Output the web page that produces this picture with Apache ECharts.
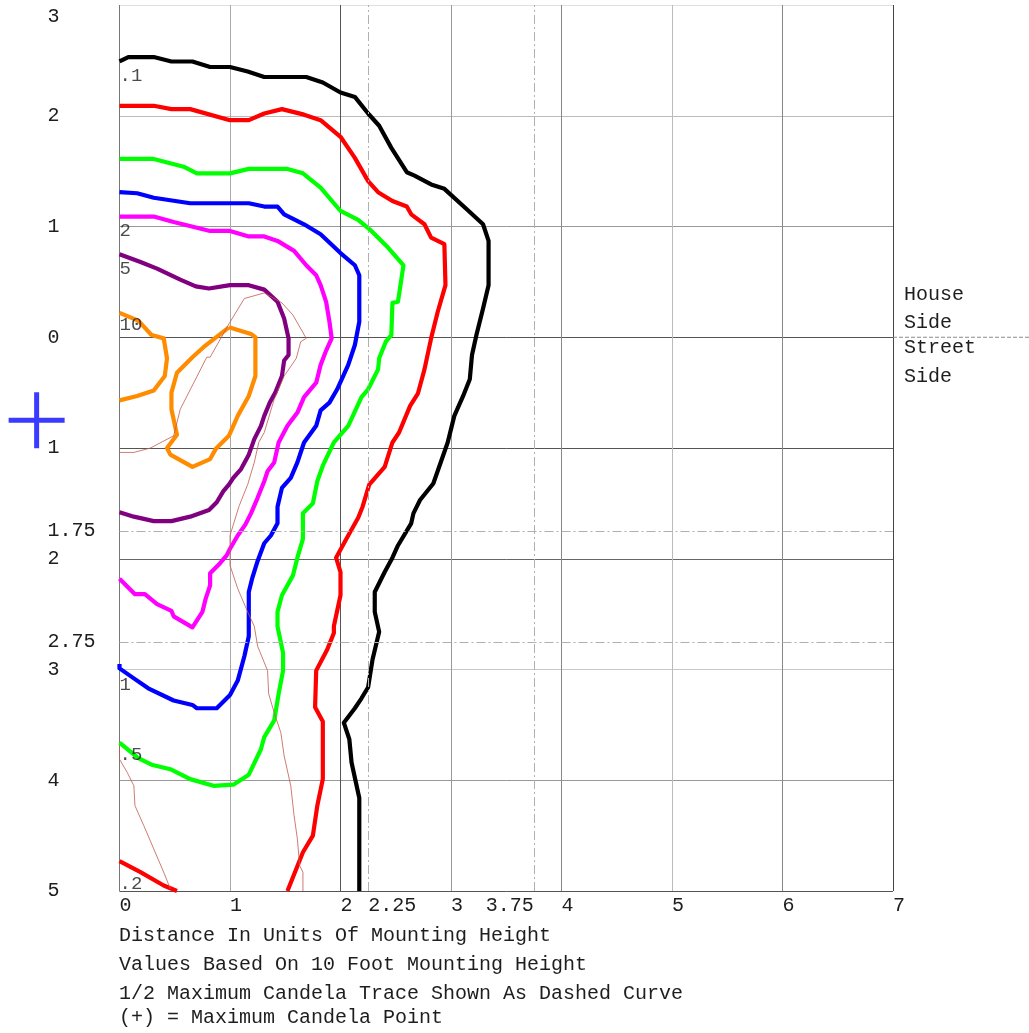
<!DOCTYPE html>
<html>
<head>
<meta charset="utf-8">
<script src="https://cdn.jsdelivr.net/npm/echarts@6/dist/echarts.min.js"></script>
<style>
html,body{margin:0;padding:0;background:#fff;}
#chart{width:1029px;height:1033px;}
</style>
</head>
<body>
<div id="chart"></div>
<script>
// ---- tick labels ----
const xTickValues = [0, 1, 2, 2.25, 3, 4, 5, 6, 7];
const xTickValuesRightAligned = [3.75];
const yTickValues = [3, 2, 1, 0, -1, -1.75, -2, -2.75, -3, -4, -5];
const xRefLines = [2.25, 3.75];
const yRefLines = [-1.75, -2.75];
const dividerY = 0;

// ---- iso-footcandle contours (x = distance, y = distance; + house side, - street side) ----
const contour01 = [[0,2.49],[0.08,2.53],[0.31,2.53],[0.47,2.49],[0.66,2.49],[0.82,2.44],[1.00,2.44],[1.16,2.40],[1.31,2.35],[1.69,2.35],[1.84,2.30],[2.00,2.21],[2.13,2.17],[2.25,2.02],[2.35,1.91],[2.46,1.71],[2.60,1.49],[2.67,1.46],[2.82,1.38],[2.94,1.34],[3.16,1.14],[3.29,1.02],[3.34,0.87],[3.34,0.47],[3.29,0.26],[3.23,0.02],[3.19,-0.16],[3.17,-0.38],[3.11,-0.53],[3.03,-0.71],[2.97,-0.95],[2.84,-1.32],[2.72,-1.47],[2.66,-1.59],[2.64,-1.68],[2.52,-1.88],[2.47,-1.99],[2.40,-2.12],[2.31,-2.30],[2.31,-2.48],[2.35,-2.66],[2.29,-2.91],[2.25,-3.16],[2.19,-3.26],[2.13,-3.35],[2.03,-3.48],[2.08,-3.63],[2.10,-3.84],[2.17,-4.16],[2.17,-5]];
const contour02 = [[0,2.09],[0.31,2.09],[0.47,2.06],[0.64,2.06],[1.00,1.96],[1.17,1.96],[1.31,2.02],[1.47,2.06],[1.67,2.01],[1.82,1.96],[2.00,1.81],[2.13,1.62],[2.25,1.41],[2.34,1.31],[2.47,1.23],[2.60,1.18],[2.64,1.11],[2.76,1.02],[2.82,0.90],[2.94,0.84],[2.95,0.47],[2.88,0.23],[2.82,-0.01],[2.76,-0.29],[2.70,-0.51],[2.63,-0.62],[2.53,-0.86],[2.47,-0.95],[2.40,-1.17],[2.26,-1.33],[2.20,-1.53],[2.16,-1.63],[2.07,-1.79],[1.96,-1.99],[2.00,-2.12],[2.00,-2.33],[1.94,-2.61],[1.94,-2.67],[1.88,-2.82],[1.78,-3.01],[1.77,-3.34],[1.84,-3.47],[1.84,-3.99],[1.79,-4.23],[1.75,-4.50],[1.66,-4.65],[1.52,-5]];
const contour02b = [[0,-4.73],[0.19,-4.83],[0.40,-4.95],[0.52,-5]];
const contour05 = [[0,1.61],[0.31,1.61],[0.58,1.54],[0.70,1.48],[1.00,1.48],[1.17,1.52],[1.52,1.52],[1.66,1.48],[1.82,1.35],[2.00,1.14],[2.16,1.06],[2.28,0.96],[2.43,0.81],[2.57,0.65],[2.52,0.32],[2.47,0.31],[2.46,0.02],[2.41,-0.04],[2.35,-0.19],[2.34,-0.29],[2.25,-0.47],[2.19,-0.54],[2.07,-0.80],[1.94,-0.95],[1.84,-1.16],[1.79,-1.30],[1.75,-1.50],[1.66,-1.59],[1.66,-1.82],[1.61,-1.99],[1.57,-2.15],[1.47,-2.33],[1.43,-2.48],[1.43,-2.61],[1.48,-2.85],[1.48,-3.01],[1.44,-3.22],[1.40,-3.46],[1.31,-3.61],[1.28,-3.72],[1.17,-3.95],[1.03,-4.04],[0.85,-4.05],[0.64,-3.99],[0.46,-3.90],[0.29,-3.86],[0.17,-3.80],[0,-3.66]];
const contour1 = [[0,1.31],[0.16,1.30],[0.31,1.26],[0.64,1.21],[1.17,1.21],[1.31,1.18],[1.43,1.18],[1.49,1.11],[1.67,1.02],[1.82,0.93],[2.00,0.76],[2.13,0.65],[2.17,0.56],[2.17,0.14],[2.13,-0.07],[2.07,-0.25],[1.97,-0.47],[1.90,-0.59],[1.82,-0.66],[1.78,-0.80],[1.67,-0.95],[1.61,-1.13],[1.55,-1.27],[1.47,-1.36],[1.43,-1.53],[1.43,-1.68],[1.37,-1.79],[1.31,-1.86],[1.25,-2.02],[1.20,-2.18],[1.17,-2.30],[1.17,-2.70],[1.13,-2.88],[1.07,-3.10],[1.00,-3.23],[0.88,-3.35],[0.70,-3.35],[0.66,-3.32],[0.49,-3.28],[0.26,-3.17],[0.13,-3.08],[0,-2.99],[0,-2.95]];
const contour2 = [[0,1.09],[0.31,1.09],[0.49,1.04],[0.82,0.96],[1.00,0.96],[1.17,0.91],[1.31,0.91],[1.43,0.87],[1.58,0.78],[1.69,0.65],[1.78,0.56],[1.82,0.47],[1.87,0.32],[1.90,0.14],[1.92,-0.01],[1.87,-0.12],[1.82,-0.25],[1.78,-0.41],[1.67,-0.54],[1.61,-0.68],[1.52,-0.80],[1.44,-0.95],[1.40,-1.13],[1.34,-1.21],[1.31,-1.30],[1.25,-1.45],[1.19,-1.59],[1.14,-1.69],[1.07,-1.79],[1.00,-1.91],[0.97,-1.97],[0.91,-2.04],[0.82,-2.13],[0.82,-2.24],[0.78,-2.36],[0.75,-2.48],[0.66,-2.62],[0.49,-2.52],[0.47,-2.47],[0.34,-2.41],[0.23,-2.32],[0.14,-2.32],[0,-2.18]];
const contour5 = [[0,0.75],[0.19,0.68],[0.34,0.62],[0.55,0.52],[0.69,0.46],[0.81,0.44],[1.00,0.47],[1.17,0.47],[1.31,0.43],[1.43,0.32],[1.49,0.17],[1.53,-0.01],[1.53,-0.16],[1.49,-0.21],[1.47,-0.35],[1.41,-0.50],[1.36,-0.59],[1.31,-0.71],[1.28,-0.80],[1.22,-0.92],[1.17,-1.06],[1.10,-1.19],[1.03,-1.27],[0.99,-1.33],[0.94,-1.39],[0.88,-1.49],[0.81,-1.56],[0.64,-1.62],[0.47,-1.66],[0.31,-1.66],[0.13,-1.62],[0,-1.58]];
const contour10a = [[0,0.22],[0.17,0.15],[0.29,0.02],[0.40,-0.01],[0.43,-0.19],[0.41,-0.35],[0.31,-0.48],[0.16,-0.53],[0,-0.57]];
const contour10b = [[0.99,0.09],[1.19,0.03],[1.23,0.00],[1.23,-0.35],[1.17,-0.53],[1.07,-0.71],[0.99,-0.89],[0.87,-1.01],[0.82,-1.10],[0.66,-1.17],[0.46,-1.06],[0.43,-1.00],[0.52,-0.88],[0.47,-0.65],[0.47,-0.50],[0.52,-0.32],[0.66,-0.18],[0.76,-0.09],[0.99,0.09]];
// ---- 1/2 maximum candela trace ----
const halfCandelaA = [[0,-1.04],[0.13,-1.04],[0.28,-1.00],[0.49,-0.89],[0.55,-0.65],[0.79,-0.18],[0.82,-0.18],[0.99,0.12],[1.13,0.35],[1.31,0.40],[1.47,0.31],[1.57,0.20],[1.69,-0.01],[1.64,-0.04],[1.60,-0.19],[1.49,-0.35],[1.40,-0.56],[1.31,-0.86],[1.26,-0.95],[1.22,-1.13],[1.16,-1.33],[1.08,-1.53],[1.00,-1.79],[1.00,-2.06],[1.07,-2.27],[1.16,-2.48],[1.22,-2.61],[1.25,-2.79],[1.34,-3.01],[1.35,-3.22],[1.40,-3.39],[1.46,-3.57],[1.49,-3.78],[1.55,-4.05],[1.58,-4.32],[1.61,-4.53],[1.63,-4.77],[1.66,-4.83],[1.66,-5]];
const halfCandelaB = [[0,-3.69],[0.00,-3.81],[0.07,-3.93],[0.13,-4.05],[0.14,-4.23],[0.22,-4.41],[0.31,-4.62],[0.40,-4.83],[0.46,-4.98]];
// ---- maximum candela point ----
const maxCandelaPoint = [-0.75, -0.75];
// ---- contour value labels ----
const contourLabelText = ['.1', '2', '5', '10', '1', '.5', '.2'];
const contourLabelY = [2.36, 0.96, 0.62, 0.11, -3.14, -3.77, -4.94];
// ---- text ----
const sideLabels = ['House', 'Side', 'Street', 'Side'];
const footnotes = ['Distance In Units Of Mounting Height', 'Values Based On 10 Foot Mounting Height', '1/2 Maximum Candela Trace Shown As Dashed Curve', '(+) = Maximum Candela Point'];

const FONT = "'Liberation Mono', 'DejaVu Sans Mono', monospace";
const TEXT = '#1e1e1e';
const chart = echarts.init(document.getElementById('chart'), null, {renderer: 'canvas'});

function contourSeries(name, data, color, width) {
  return {
    name: name, type: 'line', data: data, showSymbol: false, symbol: 'none', clip: false,
    lineStyle: {color: color, width: width, join: 'round'}, z: 3, silent: true, animation: false
  };
}

const series = [
  contourSeries('0.1', contour01, '#000000', 4.2),
  contourSeries('0.2', contour02, '#ff0000', 4.2),
  contourSeries('0.2b', contour02b, '#ff0000', 4.2),
  contourSeries('0.5', contour05, '#00ff00', 4.2),
  contourSeries('1', contour1, '#0000ff', 4.2),
  contourSeries('2', contour2, '#ff00ff', 4.2),
  contourSeries('5', contour5, '#800080', 4.2),
  contourSeries('10a', contour10a, '#ff8c00', 4.2),
  contourSeries('10b', contour10b, '#ff8c00', 4.2),
  contourSeries('halfA', halfCandelaA, '#c05a50', 0.8),
  contourSeries('halfB', halfCandelaB, '#c05a50', 0.8),
  {
    name: 'refs', type: 'line', data: [], silent: true,
    markLine: {
      silent: true, symbol: 'none', label: {show: false}, animation: false,
      lineStyle: {color: '#b0b0b0', width: 1, type: [9, 3, 2, 3]},
      data: xRefLines.map(v => ({xAxis: v})).concat(yRefLines.map(v => ({yAxis: v})))
    }
  },
  {
    name: 'max', type: 'scatter', data: [maxCandelaPoint], clip: false, silent: true,
    symbol: 'path://M0,25.5H56V30.5H0Z M25.5,0H30.5V56H25.5Z', symbolSize: [56, 56],
    itemStyle: {color: '#0a0aff'}, z: 5
  },
  {
    name: 'labels', type: 'scatter', clip: false, silent: true, symbolSize: 0,
    data: contourLabelText.map((t, i) => ({name: t, value: [0, contourLabelY[i]]})),
    label: {
      show: true, position: 'right', distance: 0, formatter: p => p.name,
      fontFamily: FONT, fontSize: 19, color: TEXT, align: 'left', verticalAlign: 'middle'
    }, z: 4
  }
];

const axisLabelBase = {fontFamily: FONT, fontSize: 20, color: TEXT, margin: 5};

const option = {
  animation: false,
  backgroundColor: '#ffffff',
  grid: {left: 119.5, right: 136, top: 5, bottom: 142, containLabel: false},
  xAxis: [{
    type: 'value', min: 0, max: 7, interval: 1,
    axisLine: {show: false}, axisTick: {show: false},
    splitLine: {show: true, showMinLine: true, showMaxLine: true,
      lineStyle: {color: ['#777', '#aaa', '#555', '#999', '#888', '#bbb', '#888', '#444'], width: 1}},
    axisLabel: Object.assign({customValues: xTickValues, formatter: v => String(v), align: 'left'}, axisLabelBase)
  }, {
    type: 'value', min: 0, max: 7, interval: 1, position: 'bottom',
    axisLine: {show: false}, axisTick: {show: false}, splitLine: {show: false},
    axisLabel: Object.assign({customValues: xTickValuesRightAligned, formatter: v => String(v), align: 'right'}, axisLabelBase)
  }],
  yAxis: {
    type: 'value', min: -5, max: 3, interval: 1,
    axisLine: {show: false}, axisTick: {show: false},
    splitLine: {show: true, showMinLine: true, showMaxLine: true,
      lineStyle: {color: ['#555', '#999', '#c8c8c8', '#666', '#555', '#555', '#999', '#bbb', '#e0e0e0'], width: 1}},
    axisLabel: {
      customValues: yTickValues,
      formatter: v => (v === 3 ? '{t|3}' : String(Math.abs(v))),
      rich: {t: {fontFamily: FONT, fontSize: 20, color: TEXT, padding: [24, 0, 0, 0]}},
      fontFamily: FONT, fontSize: 20, color: TEXT, align: 'left', margin: 72
    }
  },
  graphic: [
    ...sideLabels.map((t, i) => ({
      type: 'text', left: 904, top: [285, 313, 338, 367][i],
      style: {text: t, font: "20px " + FONT, fill: TEXT}
    })),
    ...footnotes.map((t, i) => ({
      type: 'text', left: 119, top: [926, 955, 984, 1008][i],
      style: {text: t, font: "20px " + FONT, fill: TEXT}
    }))
  ],
  series: series
};
chart.setOption(option);

// House/Street divider continues past the plot edge, placed through the axis scale
const start = chart.convertToPixel({gridIndex: 0}, [7, dividerY]);
chart.setOption({
  graphic: [{
    id: 'divider', type: 'line', silent: true, z: 1,
    shape: {x1: start[0], y1: start[1], x2: chart.getWidth(), y2: start[1]},
    style: {stroke: '#8a8a8a', lineWidth: 1, lineDash: [4, 2]}
  }]
});
</script>
